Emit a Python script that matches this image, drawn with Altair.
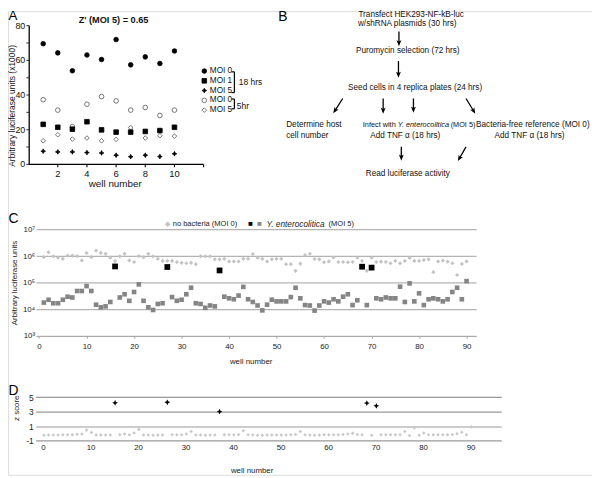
import math
import altair as alt
import pandas as pd

FONT = "Liberation Sans"
W, H = 592, 470
M = 8  # page margin


def px(v):
    return v - M


# ---------------- Panel A data ----------------
a_wells = list(range(1, 11))
a_moi0_18h = [69.6, 64.3, 54.0, 63.1, 60.5, 72.0, 57.4, 62.0, 58.2, 65.4]
a_moi1_18h = [23.1, 21.4, 20.3, 24.6, 19.9, 18.6, 18.6, 19.0, 19.5, 21.4]
a_moi5_18h = [7.6, 7.2, 7.2, 6.8, 6.6, 5.3, 4.4, 5.3, 4.5, 6.1]
a_moi0_5h = [37.3, 31.3, 21.8, 34.7, 39.1, 36.6, 31.3, 32.8, 28.2, 31.3]
a_moi5_5h = [13.6, 17.1, 14.6, 15.2, 13.6, 14.4, 21.2, 15.2, 16.5, 16.3]
a_series = ["MOI 0", "MOI 1", "MOI 5", "MOI 0 ", "MOI 5 "]
a_y_ticks = [0, 10, 20, 30, 40, 50, 60, 70, 80]
a_y_labels = [0, 20, 40, 60, 80]
a_x_ticks = [2, 4, 6, 8, 10, 12]
a_x_labels = [2, 4, 6, 8, 10]
a_x_extent = [0, 12]
a_y_extent = [0, 80]

# ---------------- Panel C data ----------------
c_wells = list(range(1, 91))
c_no_bacteria = [
    9.1e5, 1.4e6, 9.8e5, 8.7e5, 7.9e5, 1.05e6, 1.05e6, 1.0e6, 6.9e5, 1.32e6,
    9.1e5, 1.62e6, 1.32e6, 1.22e6, 8.7e5, 6.5e5, 9.8e5, 1.22e6, 6.9e5, 6.0e5,
    1.0e6, 9.1e5, 1.22e6, 9.8e5, 7.9e5, 6.6e5, 6.6e5, 6.6e5, 6.0e5, 5.6e5,
    5.4e5, 5.6e5, 5.0e5, 9.8e5, 9.8e5, 9.8e5, 7.6e5, 7.6e5, 7.9e5, 6.3e5,
    6.3e5, 6.3e5, 7.9e5, 7.9e5, 1.2e6, 8.7e5, 7.9e5, 6.3e5, 7.6e5, 7.9e5,
    7.9e5, 5.0e5, 5.0e5, 2.8e5, 5.2e5, 1.1e6, 1.23e6, 7.8e5, 7.6e5, 5.9e5,
    6.3e5, 8.9e5, 6.0e5, 6.0e5, 5.9e5, 6.0e5, 8.7e5, 6.6e5, 2.8e5, 8.7e5,
    6.0e5, 6.2e5, 6.0e5, 5.4e5, 6.6e5, 5.4e5, 6.6e5, 8.5e5, 6.6e5, 6.6e5,
    7.1e5, 7.6e5, 2.5e5, 6.3e5, 6.8e5, 6.2e5, 5.4e5, 1.95e5, 5.1e5, 6.3e5,
]
c_moi5 = [
    1.8e4, 2.3e4, 1.7e4, 1.7e4, 2.3e4, 3.0e4, 2.8e4, 4.9e4, 4.9e4, 7.5e4,
    4.9e4, 1.5e4, 1.2e4, 1.3e4, 1.9e4, 4.1e5, 2.8e4, 3.7e4, 2.1e4, 4.5e4,
    8.7e4, 2.1e4, 1.2e4, 9.5e3, 1.6e4, 1.7e4, 3.9e5, 2.9e4, 2.1e4, 2.3e4,
    3.7e4, 6.5e4, 1.7e4, 1.6e4, 1.15e4, 1.4e4, 1.3e4, 2.9e5, 3.0e4, 2.6e4,
    2.4e4, 3.3e4, 7.0e4, 2.4e4, 1.9e4, 1.4e4, 9.2e3, 1.5e4, 2.3e4, 2.0e4,
    2.0e4, 2.0e4, 2.9e4, 6.5e4, 2.6e4, 1.45e4, 1.4e4, 9.0e3, 1.4e4, 2.0e4,
    1.8e4, 2.4e4, 2.0e4, 3.0e4, 3.7e4, 1.45e4, 2.2e4, 4.0e5, 1.45e4, 3.7e5,
    2.6e4, 2.4e4, 2.8e4, 2.6e4, 2.6e4, 7.1e4, 1.9e4, 9.5e4, 2.0e4, 4.0e4,
    1.45e4, 2.4e4, 2.6e4, 2.4e4, 2.0e4, 2.4e4, 4.5e4, 6.5e4, 2.4e4, 1.15e5,
]
c_hits = [16, 27, 38, 68, 70]

# ---------------- Panel D data ----------------
d_wells = [w for w in range(1, 92) if w not in (16, 27, 38, 69, 71)]
d_z = [
    -0.25, -0.23, -0.23, -0.23, -0.2, -0.2, -0.2, -0.12, -0.1, 0.45,
    0.12, -0.23, -0.23, -0.23, -0.23,
    -0.2, -0.1, -0.2, 0.05, 0.55, -0.23, -0.23, -0.25, -0.23, -0.23,
    -0.2, -0.2, -0.18, -0.1, 0.27, -0.23, -0.23, -0.25, -0.23, -0.23,
    -0.2, -0.2, -0.2, -0.15, 0.36, -0.2, -0.23, -0.25, -0.27, -0.23,
    -0.23, -0.23, -0.23, -0.23, -0.2, -0.15, 0.27, -0.2, -0.23, -0.25,
    -0.23, -0.2, -0.2, -0.2, -0.18, -0.15, -0.09, 0.0, -0.15, -0.2,
    -0.25,
    -0.2, -0.2, -0.2, -0.2, -0.18, 0.27, -0.3, 0.73, -0.25, 0.05,
    -0.2, -0.2, -0.2, -0.2, -0.2, -0.15, -0.05, 0.15, -0.2, 0.9,
]
d_hit_wells = [16, 27, 38, 69, 71]
d_hit_z = [4.22, 4.3, 3.0, 4.18, 3.8]

# ---------------- helpers ----------------
_one = pd.DataFrame({"k": [0]})


def txt(s, x, y, size=8.3, align="center", baseline="middle", weight="normal",
        style="normal", color="#111", angle=0):
    return alt.Chart(_one).mark_text(
        align=align, baseline=baseline, fontSize=size, fontWeight=weight,
        fontStyle=style, color=color, font=FONT, angle=angle
    ).encode(x=alt.value(px(x)), y=alt.value(px(y)), text=alt.value(s))


def seg(x1, y1, x2, y2, w=1.2, color="black"):
    return alt.Chart(_one).mark_rule(strokeWidth=w, color=color).encode(
        x=alt.value(px(x1)), y=alt.value(px(y1)),
        x2=alt.value(px(x2)), y2=alt.value(px(y2)))


def bar(x1, y1, x2, y2, color="black"):
    """thin axis-aligned filled strip (used for axis lines and ticks)"""
    return alt.Chart(_one).mark_rect(color=color, opacity=1).encode(
        x=alt.value(px(min(x1, x2))), x2=alt.value(px(max(x1, x2))),
        y=alt.value(px(min(y1, y2))), y2=alt.value(px(max(y1, y2))))


HEAD = "M0,-1L0.7,0.75L0,0.35L-0.7,0.75Z"


def arrow(x1, y1, x2, y2, size=49):
    dx, dy = x2 - x1, y2 - y1
    L = math.hypot(dx, dy)
    ux, uy = dx / L, dy / L
    r = math.sqrt(size) / 2
    ang = math.degrees(math.atan2(dx, -dy)) % 360
    head = alt.Chart(_one).mark_point(
        shape=HEAD, filled=True, color="black", size=size, angle=ang, opacity=1
    ).encode(x=alt.value(px(x2 - ux * r)), y=alt.value(px(y2 - uy * r)))
    return [seg(x1, y1, x2 - ux * 3, y2 - uy * 3, w=1.3), head]


# ---------------- Panel A ----------------
dfA = pd.DataFrame({
    "well": a_wells * 5,
    "value": a_moi0_5h + a_moi5_5h + a_moi0_18h + a_moi1_18h + a_moi5_18h,
    "series": sum([[s] * 10 for s in ["MOI 0 ", "MOI 5 ", "MOI 0", "MOI 1", "MOI 5"]], []),
})
STAR = "M0,-1L0.32,-0.32L1,0L0.32,0.32L0,1L-0.32,0.32L-1,0L-0.32,-0.32Z"
shapeA = alt.Shape("series:N", scale=alt.Scale(
    domain=a_series, range=["circle", "square", STAR, "circle", "diamond"]), legend=None)
fillA = alt.Fill("series:N", scale=alt.Scale(
    domain=a_series, range=["black", "black", "black", "white", "white"]), legend=None)
strokeA = alt.Stroke("series:N", scale=alt.Scale(
    domain=a_series, range=["black", "black", "black", "#555", "#555"]), legend=None)
sizeA = alt.Size("series:N", scale=alt.Scale(
    domain=a_series, range=[22, 22, 30, 26, 22]), legend=None)

# pixel frame of panel A (page coordinates)
A_X0, A_X1 = 28.9, 206.3     # x = 0 .. 12
A_Y0, A_Y1 = 163.3, 22.7     # y = 0 .. 80
A_AXIS_X = 29.5              # page x of the y-axis line

scx_A = alt.Scale(domain=a_x_extent, range=[px(A_X0), px(A_X1)], nice=False, zero=False)
scy_A = alt.Scale(domain=a_y_extent, range=[px(A_Y0), px(A_Y1)], nice=False, zero=False)


def xA(field):
    return alt.X(field, type="quantitative", scale=scx_A, axis=None)


def yA(field):
    return alt.Y(field, type="quantitative", scale=scy_A, axis=None)


def a_px(v):
    return A_X0 + (v - a_x_extent[0]) / (a_x_extent[1] - a_x_extent[0]) * (A_X1 - A_X0)


def a_py(v):
    return A_Y0 + (v - a_y_extent[0]) / (a_y_extent[1] - a_y_extent[0]) * (A_Y1 - A_Y0)


pointsA = alt.Chart(dfA).mark_point(strokeWidth=0.8, opacity=1).encode(
    x=xA("well"), y=yA("value"), shape=shapeA, fill=fillA, stroke=strokeA, size=sizeA)
y_labels_A = alt.Chart(pd.DataFrame({"value": a_y_labels})).mark_text(
    align="right", baseline="middle", fontSize=9, font=FONT, color="#111"
).encode(y=yA("value"), x=alt.value(px(A_AXIS_X) - 4), text="value:Q")
x_labels_A = alt.Chart(pd.DataFrame({"well": a_x_labels})).mark_text(
    align="center", baseline="middle", fontSize=9.5, font=FONT, color="#111"
).encode(x=xA("well"), y=alt.value(px(A_Y0) + 10), text="well:Q")
panelA = alt.layer(pointsA, y_labels_A, x_labels_A)

# axis lines and ticks of panel A (thin filled strips)
axesA = [
    bar(A_AXIS_X - 0.65, a_py(a_y_extent[1]), A_AXIS_X + 0.65, A_Y0 + 0.65),
    bar(A_AXIS_X - 0.65, A_Y0 - 0.65, a_px(a_x_extent[1]), A_Y0 + 0.65),
]
for v in a_y_ticks:
    axesA.append(bar(A_AXIS_X - 2.8, a_py(v) - 0.55, A_AXIS_X, a_py(v) + 0.55,
                     color="#334"))
for v in a_x_ticks:
    axesA.append(bar(a_px(v) - 0.55, A_Y0, a_px(v) + 0.55, A_Y0 + 3))

# legend for panel A (rows placed by a point scale)
dfLeg = pd.DataFrame({"series": a_series})
yLeg = alt.Y("series:N", scale=alt.Scale(domain=a_series,
                                         range=[px(68.7), px(108.3)], padding=0),
             axis=None)
legendA = alt.layer(
    alt.Chart(dfLeg).mark_point(strokeWidth=0.8, opacity=1).encode(
        x=alt.value(px(207)), y=yLeg, shape=shapeA, fill=fillA, stroke=strokeA,
        size=sizeA),
    alt.Chart(dfLeg).mark_text(align="left", baseline="middle", fontSize=8.3,
                               font=FONT, color="#111").encode(
        x=alt.value(px(212.6)), y=yLeg, text="series:N"),
)

annA = [
    txt("A", 8.5, 13, size=13.5, align="left", color="black"),
    txt("Z' (MOI 5) = 0.65", 115, 16.7, size=9.3, weight="bold"),
    txt("Arbitrary luciferase units (x1000)", 12.5, 104, size=8.6, angle=270),
    txt("well number", 116.7, 183.3, size=10),
    seg(234.5, 69.5, 237.5, 69.5), seg(237.5, 69.5, 237.5, 90.5),
    seg(234.5, 90.5, 237.5, 90.5),
    seg(234.5, 97, 237.5, 97), seg(237.5, 97, 237.5, 107),
    seg(234.5, 107, 237.5, 107),
    txt("18 hrs", 242, 80, size=8.5, align="left"),
    txt("5hr", 240, 104, size=8.5, align="left"),
]

# ---------------- Panel B (flowchart) ----------------
fs_inf = 7.4
annB = [
    txt("B", 282, 14, size=14, align="left", color="black"),
    txt("Transfect HEK293-NF-kB-luc", 416.7, 12),
    txt("w/shRNA plasmids (30 hrs)", 412.7, 21.5),
    txt("Puromycin selection (72 hrs)", 413.3, 48.3),
    txt("Seed cells in 4 replica plates (24 hrs)", 420.7, 85.7),
    txt("Determine host", 290, 123.3, align="left"),
    txt("cell number", 290, 135, align="left"),
    txt("Infect with ", 367.7, 123.3, size=fs_inf, align="left"),
    txt("Y. enterocolitica", 367.7 + 4.78 * fs_inf, 123.3, size=fs_inf,
        align="left", style="italic"),
    txt("(MOI 5)", 481.8, 123.3, size=fs_inf, align="right"),
    txt("Bacteria-free reference (MOI 0)", 482.5, 123.3, size=8.3, align="left"),
    txt("Add TNF \u03b1 (18 hrs)", 410.7, 134.5),
    txt("Add TNF \u03b1 (18 hrs)", 536.7, 134.5),
    txt("Read luciferase activity", 413.3, 173.3),
]
annB += arrow(404.3, 28.5, 404.3, 43.5)
annB += arrow(403.8, 58.5, 403.8, 75.5)
annB += arrow(347.3, 96.5, 337.7, 111.5)
annB += arrow(388.3, 96.5, 388.3, 112)
annB += arrow(419, 96.5, 419, 111)
annB += arrow(472.3, 96.5, 481.7, 112)
annB += arrow(406.7, 145.5, 406.7, 159.5)
annB += arrow(472.3, 145.5, 464, 160)

# ---------------- Panel C ----------------
dfC_nb = pd.DataFrame({"well": c_wells, "value": c_no_bacteria})
dfC_m5 = pd.DataFrame({"well": c_wells, "value": c_moi5})
dfC_gray = dfC_m5[~dfC_m5["well"].isin(c_hits)]
dfC_hit = dfC_m5[dfC_m5["well"].isin(c_hits)]

sup = "['\u2070','\u00b9','\u00b2','\u00b3','\u2074','\u2075','\u2076','\u2077']"
xC = alt.X("well:Q", scale=alt.Scale(domain=[-0.62, 92.0], range=[px(36.5), px(482.5)],
                                     nice=False, zero=False),
           axis=alt.Axis(orient="bottom", offset=px(337.3) - H,
                         values=list(range(0, 100, 10)), grid=False,
                         domainColor="#aaa", tickColor="#999", tickSize=2,
                         labelPadding=8.4, labelBaseline="middle",
                         labelFont=FONT, labelFontSize=8, labelColor="#222",
                         labelFlush=False, title="well number", titleFont=FONT,
                         titleFontSize=8, titleFontWeight="normal",
                         titleColor="#222", titleX=px(254), titleY=25.4,
                         titleBaseline="middle", titleAlign="center"))
yC = alt.Y("value:Q", scale=alt.Scale(type="log", domain=[1e3, 1e7],
                                      range=[px(337.3), px(229.3)], nice=False),
           axis=alt.Axis(orient="left", offset=-px(36.5),
                         values=[1e3, 1e4, 1e5, 1e6, 1e7],
                         labelExpr="'10' + " + sup + "[round(log(datum.value)/LN10)]",
                         grid=True, gridColor="#b4b4b4", gridWidth=1.2,
                         domain=False, ticks=False, tickSize=0, labelPadding=1.5,
                         labelFont=FONT, labelFontSize=8, labelColor="#222",
                         title="Arbitrary luciferase units", titleFont=FONT,
                         titleFontSize=8, titleFontWeight="normal",
                         titleColor="#222", titleAngle=270,
                         titleX=px(15) - px(36.5), titleY=px(283),
                         titleBaseline="middle", titleAlign="center"))
panelC = alt.layer(
    alt.Chart(dfC_nb).mark_point(shape="diamond", filled=True, color="#c3c3c3",
                                 size=18, opacity=1).encode(x=xC, y=yC),
    alt.Chart(dfC_gray).mark_point(shape="square", filled=True, color="#858585",
                                   size=22, opacity=1).encode(x=xC, y=yC),
    alt.Chart(dfC_hit).mark_point(shape="square", filled=True, color="black",
                                  size=34, opacity=1).encode(x=xC, y=yC),
)
annC = [
    txt("C", 8.5, 219, size=14, align="left", color="black"),
    txt("\u25c6", 170, 223.3, size=7, color="#c3c3c3"),
    txt("no bacteria (MOI 0)", 175, 223.3, size=7.6, align="left", color="#222"),
    txt("\u25a0", 254, 223.3, size=8, color="black"),
    txt("\u25a0", 263, 223.3, size=8, color="#858585"),
    txt("Y. enterocolitica", 270, 223.3, size=8.4, align="left", style="italic",
        color="#222"),
    txt("(MOI 5)", 333, 223.3, size=7.6, align="left", color="#222"),
]

# ---------------- Panel D ----------------
dfD = pd.DataFrame({"well": d_wells, "z": d_z})
dfD_hit = pd.DataFrame({"well": d_hit_wells, "z": d_hit_z})
xD = alt.X("well:Q", scale=alt.Scale(domain=[-0.73, 97.3], range=[px(36), px(508)],
                                     nice=False, zero=False),
           axis=alt.Axis(orient="bottom", offset=px(443.3) - H,
                         values=list(range(0, 100, 10)), grid=False,
                         domain=False, ticks=False, tickSize=0, labelOffset=4,
                         labelPadding=7.4, labelBaseline="middle",
                         labelFont=FONT, labelFontSize=8, labelColor="#222",
                         labelFlush=False, title="well number", titleFont=FONT,
                         titleFontSize=8, titleFontWeight="normal",
                         titleColor="#222", titleX=px(255), titleY=30.7,
                         titleBaseline="middle", titleAlign="center"))
yD = alt.Y("z:Q", scale=alt.Scale(domain=[-1, 5], range=[px(443.3), px(399.3)],
                                  nice=False, zero=False),
           axis=alt.Axis(orient="left", offset=-px(36), values=[-1, 1, 3, 5],
                         labelExpr="'' + datum.value",
                         grid=True, gridColor="#999", gridWidth=1.2,
                         domain=False, ticks=False, tickSize=0, labelPadding=2.5,
                         labelFont=FONT, labelFontSize=8.5, labelColor="#222",
                         title="z score", titleFont=FONT, titleFontSize=8,
                         titleFontWeight="normal", titleColor="#222",
                         titleAngle=270, titleX=px(17) - px(36), titleY=px(410),
                         titleBaseline="middle", titleAlign="center"))
panelD = alt.layer(
    alt.Chart(dfD).mark_point(shape="diamond", filled=True, color="#c8c8c8",
                              size=13, opacity=1).encode(x=xD, y=yD),
    alt.Chart(dfD_hit).mark_point(shape=STAR, filled=True, color="black",
                                  size=34, opacity=1).encode(x=xD, y=yD),
)
annD = [txt("D", 8.5, 393, size=14, align="left", color="black")]

chart = alt.layer(
    panelA, legendA, panelC, panelD, *axesA, *annA, *annB, *annC, *annD
).resolve_scale(
    x="independent", y="independent"
).properties(
    width=W, height=H, autosize=alt.AutoSizeParams(type="none"), padding=0
).configure_view(stroke=None).configure(font=FONT)

chart.save("out.html", embed_options={"renderer": "svg", "actions": False})
